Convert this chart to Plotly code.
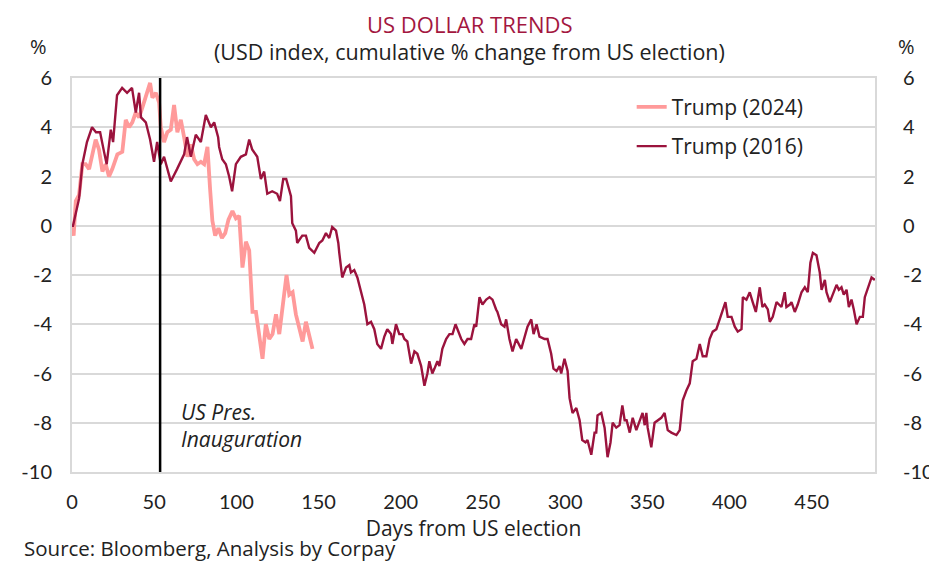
import plotly.graph_objects as go

# Trump (2016): days from election, cumulative % change in USD index
days_2016 = [0, 0.6, 4.3, 6.3, 9.1, 12.2, 14.6, 17.1, 19.5, 21.1, 23.6, 25.0, 27.4, 30.5, 33.5, 36.5,
             38.8, 40.8, 42.0, 44.9, 47.5, 49.9, 51.8, 54.0, 56.0, 60.1, 63.9, 68.2, 70.0, 72.3, 75.3,
             78.4, 81.4, 84.5, 86.5, 88.9, 89.5, 91.4, 93.6, 95.6, 97.4, 99.7, 102.7, 105.8, 107.8,
             109.6, 112.7, 114.9, 116.9, 118.8, 121.8, 124.8, 126.5, 128.5, 130.3, 133.2, 134.0,
             136.2, 137.0, 140.1, 142.3, 144.3, 147.4, 150.4, 152.3, 154.5, 156.5, 158.3, 160.6,
             162.0, 162.6, 164.4, 166.7, 168.7, 169.7, 171.7, 173.6, 175.8, 177.8, 179.7, 181.9,
             183.9, 185.7, 188.0, 190.0, 191.8, 194.1, 194.9, 197.1, 199.1, 201.0, 202.2, 204.0,
             206.3, 208.3, 210.1, 212.4, 214.4, 216.2, 217.4, 219.2, 220.5, 222.3, 223.5, 225.3,
             227.6, 229.6, 231.5, 233.3, 234.5, 236.8, 238.7, 240.6, 242.8, 244.8, 245.9, 247.9,
             249.7, 252.0, 254.0, 255.8, 258.0, 258.8, 261.1, 263.1, 264.1, 266.1, 268.0, 270.2,
             273.3, 275.3, 277.1, 279.4, 280.8, 282.6, 284.4, 287.5, 289.3, 291.5, 292.9, 294.8,
             296.6, 297.6, 299.6, 301.5, 302.7, 304.5, 306.8, 308.8, 310.4, 312.4, 313.6, 315.9,
             317.9, 318.9, 319.7, 322.0, 324.0, 325.8, 327.6, 328.9, 331.1, 333.1, 334.8, 336.2,
             337.4, 339.3, 341.1, 343.3, 345.3, 347.1, 348.4, 349.4, 350.2, 352.4, 354.4, 356.3,
             358.5, 360.5, 362.4, 364.6, 367.7, 369.7, 371.5, 373.7, 375.8, 377.6, 379.9, 381.9,
             383.7, 385.9, 387.9, 389.8, 392.0, 394.0, 395.9, 397.5, 398.9, 401.2, 403.2, 405.0,
             407.3, 408.1, 410.3, 412.3, 414.1, 416.0, 418.4, 420.0, 421.4, 423.3, 424.5, 426.3,
             428.6, 430.0, 431.6, 433.6, 434.6, 436.7, 437.7, 439.7, 441.5, 443.8, 445.8, 447.6,
             449.2, 450.7, 452.9, 454.9, 456.0, 458.0, 459.0, 461.0, 462.8, 465.1, 466.5, 468.1,
             469.5, 471.2, 472.6, 474.2, 475.6, 477.3, 479.3, 481.1, 482.3, 484.2, 486.4, 488.4]
usd_2016 = [0.0, 0.0, 1.1, 2.5, 3.4, 4.0, 3.8, 3.8, 3.0, 2.5, 3.9, 3.4, 5.3, 5.6, 5.4, 5.6,
            4.6, 5.4, 4.4, 4.2, 3.5, 2.6, 3.4, 2.5, 2.8, 1.8, 2.3, 2.9, 3.6, 2.8, 3.7,
            3.4, 4.5, 4.0, 4.2, 3.6, 3.2, 2.7, 2.5, 2.0, 1.4, 2.5, 2.8, 2.9, 3.5,
            3.1, 2.8, 1.9, 2.2, 1.3, 1.4, 1.3, 1.0, 1.9, 1.9, 1.2, 0.1,
            -0.2, -0.7, -0.4, -0.4, -0.9, -1.1, -0.7, -0.6, -0.3, -0.5, -0.05, -0.2,
            -0.7, -1.1, -2.1, -1.7, -1.6, -1.9, -1.8, -2.1, -2.7, -3.2, -4.0, -3.9,
            -4.2, -4.8, -5.0, -4.5, -4.2, -4.4, -4.8, -4.0, -4.4, -4.4, -4.6, -4.7,
            -5.6, -5.1, -5.2, -5.7, -6.5, -6.0, -5.5, -6.0, -5.8, -5.5, -5.7, -5.0,
            -4.6, -4.4, -4.4, -4.0, -4.2, -4.6, -4.8, -4.6, -4.6, -4.0, -4.1, -2.9,
            -3.2, -3.0, -2.9, -3.0, -3.4, -3.5, -4.0, -4.1, -3.8, -4.6, -5.1, -4.6,
            -5.0, -4.5, -4.1, -3.8, -4.4, -4.0, -4.5, -4.6, -4.6, -5.2, -5.8, -5.9,
            -5.7, -6.0, -5.4, -5.9, -7.0, -7.6, -7.4, -7.9, -8.7, -8.8, -8.7, -9.3,
            -8.4, -8.4, -7.7, -7.6, -8.2, -9.4, -8.8, -8.0, -8.2, -8.1, -7.3, -7.9,
            -7.9, -8.4, -7.8, -8.3, -7.9, -7.6, -8.1, -7.6, -8.2, -9.0, -8.0, -7.9,
            -7.8, -7.6, -8.3, -8.4, -8.5, -8.3, -7.1, -6.7, -6.4, -5.5, -5.4, -4.8,
            -5.3, -5.3, -4.6, -4.3, -4.2, -3.8, -3.4, -3.1, -3.7, -3.7, -4.1, -4.3,
            -4.2, -2.9, -3.0, -2.7, -3.1, -3.5, -2.5, -3.3, -3.2, -3.4, -3.9, -3.7,
            -3.1, -3.2, -3.3, -2.7, -3.3, -3.2, -3.1, -3.5, -3.2, -2.7, -2.5, -2.7,
            -1.5, -1.1, -1.2, -1.9, -2.6, -2.2, -2.7, -3.1, -2.8, -2.4, -2.6, -2.5,
            -2.8, -2.6, -3.3, -3.0, -3.4, -4.0, -3.7, -3.7, -2.9, -2.5, -2.1, -2.2]

# Trump (2024)
days_2024 = [0, 1.0, 2.3, 4.3, 6.3, 8.3, 10.4, 12.4, 14.4, 16.4, 18.5, 20.5, 22.5, 24.5, 27.6,
             30.6, 32.7, 34.7, 36.7, 38.8, 40.8, 42.8, 44.9, 47.5, 48.9, 51.0, 53.0, 54.0, 56.0,
             58.0, 60.1, 62.1, 64.1, 66.2, 68.2, 70.2, 72.3, 74.3, 76.3, 78.4, 80.4, 82.4, 84.0,
             85.4, 87.1, 89.1, 91.2, 93.2, 95.2, 97.6, 99.7, 101.7, 103.7, 105.8, 107.8, 109.8,
             111.9, 113.9, 115.9, 117.9, 120.0, 122.0, 124.1, 126.1, 128.1, 130.5, 132.2, 134.2,
             136.2, 138.2, 140.3, 142.3, 144.3, 146.3]
usd_2024 = [0.0, -0.4, 1.0, 1.25, 2.5, 2.5, 2.3, 2.9, 3.5, 3.1, 2.2, 2.5, 2.0, 2.3, 2.9,
            3.0, 4.3, 4.0, 4.2, 4.6, 4.4, 4.8, 5.3, 5.8, 5.2, 5.4, 5.0, 4.0, 3.4,
            3.8, 3.9, 4.9, 3.8, 4.3, 3.6, 2.8, 3.3, 2.7, 2.5, 2.6, 2.5, 3.2, 1.5,
            0.2, -0.4, -0.1, -0.5, -0.3, 0.25, 0.6, 0.3, 0.4, -1.7, -0.65, -1.0, -3.5,
            -3.5, -4.4, -5.4, -4.0, -4.6, -4.4, -3.6, -4.4, -3.2, -2.0, -2.8, -2.7,
            -3.6, -4.1, -4.7, -3.9, -4.4, -5.0]

inauguration_day = 53.6
y_ticks = [-10, -8, -6, -4, -2, 0, 2, 4, 6]
y_labels = ["-10", "-8", "-6", "-4", "-2", "0", "2", "4", "6"]
x_ticks = [0, 50, 100, 150, 200, 250, 300, 350, 400, 450]

FONT = "Open Sans"
TICKFONT = "Liberation Sans Narrow, Lato"
GRID = "#d9d9d9"
TXT = "#222"

fig = go.Figure()
fig.add_trace(go.Scatter(x=days_2024, y=usd_2024, mode="lines", name="Trump (2024)",
                         line=dict(color="#ff9a9a", width=3.8), legendgroup="a"))
fig.add_trace(go.Scatter(x=days_2016, y=usd_2016, mode="lines", name="Trump (2016)",
                         line=dict(color="#9b133d", width=2.4), legendgroup="b"))
# invisible trace so the right-hand axis is drawn
fig.add_trace(go.Scatter(x=[0], y=[0], yaxis="y2", mode="lines", showlegend=False,
                         line=dict(color="rgba(0,0,0,0)"), hoverinfo="skip"))

fig.add_shape(type="line", x0=inauguration_day, x1=inauguration_day, yref="paper", y0=0, y1=1,
              line=dict(color="black", width=2.5))

fig.add_annotation(x=65.0, y=-8.1, text="<i>US Pres.<br>Inauguration</i>", showarrow=False,
                   xanchor="left", align="left", font=dict(family=FONT, size=21, color=TXT))

# titles and captions
fig.add_annotation(xref="paper", yref="paper", x=0.4956, y=1.0, yshift=54, yanchor="middle",
                   text="US DOLLAR TRENDS", showarrow=False,
                   font=dict(family=FONT, size=22, color="#a3173f"))
fig.add_annotation(xref="paper", yref="paper", x=0.4956, y=1.0, yshift=27, yanchor="middle",
                   text="(USD index, cumulative % change from US election)", showarrow=False,
                   font=dict(family=FONT, size=21.5, color=TXT))
fig.add_annotation(xref="paper", yref="paper", x=0, xshift=-44, y=1.0, yshift=32, yanchor="middle",
                   text="%", showarrow=False, font=dict(family=FONT, size=20, color=TXT))
fig.add_annotation(xref="paper", yref="paper", x=1, xshift=42, y=1.0, yshift=32, yanchor="middle",
                   text="%", showarrow=False, font=dict(family=FONT, size=20, color=TXT))
fig.add_annotation(xref="paper", yref="paper", x=0, xshift=-50, y=0, yshift=-76, xanchor="left",
                   yanchor="middle", text="Source: Bloomberg, Analysis by Corpay", showarrow=False,
                   font=dict(family=FONT, size=20.5, color=TXT))

axis_common = dict(range=[-10, 6], tickvals=y_ticks, ticktext=y_labels, showgrid=True,
                   gridcolor=GRID, gridwidth=1.5, zeroline=False, showline=True, linecolor=GRID,
                   linewidth=2, automargin=False, tickfont=dict(family=TICKFONT, size=20, color=TXT),
                   ticks="outside", tickcolor="rgba(0,0,0,0)")

# the page is drawn 8 px in from the window corner, so the figure is 8 px smaller
fig.update_layout(
    width=929, height=554,
    margin=dict(l=64, r=62, t=70, b=90),
    paper_bgcolor="white", plot_bgcolor="white",
    font=dict(family=FONT, size=18, color=TXT),
    xaxis=dict(range=[0, 488.5], tickvals=x_ticks, showgrid=False, zeroline=False,
               showline=True, linecolor=GRID, linewidth=2, mirror=True, automargin=False,
               ticks="outside", ticklen=11, tickcolor="rgba(0,0,0,0)",
               tickfont=dict(family=TICKFONT, size=20, color=TXT),
               title=dict(text="Days from US election", standoff=9,
                          font=dict(family=FONT, size=21, color=TXT))),
    yaxis=dict(**axis_common, ticklen=14),
    yaxis2=dict(**axis_common, ticklen=22, overlaying="y", side="right"),
    legend=dict(x=0.697, y=0.978, xanchor="left", yanchor="top", bgcolor="rgba(0,0,0,0)",
                traceorder="grouped", tracegroupgap=9,
                font=dict(family=FONT, size=21, color=TXT)),
    showlegend=True,
)

fig.write_html("out.html")
